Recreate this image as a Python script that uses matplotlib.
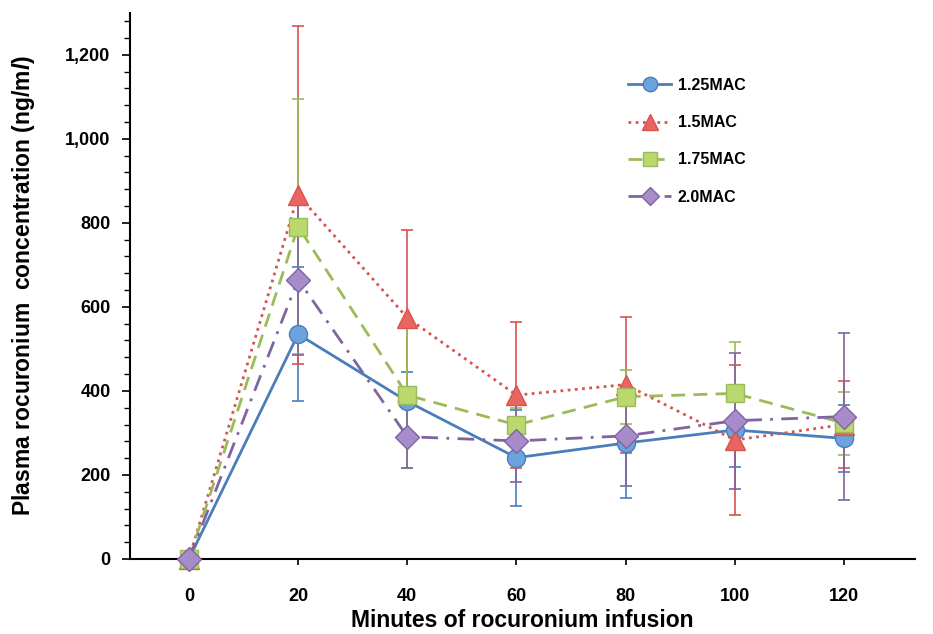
import matplotlib
matplotlib.use("Agg")
import matplotlib.pyplot as plt
from matplotlib.ticker import MultipleLocator, FuncFormatter

plt.rcParams['font.family'] = ['Liberation Sans', 'DejaVu Sans']
plt.rcParams['font.weight'] = 'bold'
plt.rcParams['mathtext.fontset'] = 'custom'
plt.rcParams['mathtext.rm'] = 'Liberation Sans:bold'
plt.rcParams['mathtext.it'] = 'Liberation Sans:italic:bold'

# Minutes of infusion and plasma concentrations (mean, SD) per MAC group
minutes = [0, 20, 40, 60, 80, 100, 120]
labels = ["1.25MAC", "1.5MAC", "1.75MAC", "2.0MAC"]

mac125 = [0, 535, 375, 241, 276, 307, 287]
mac125_sd = [0, 160, 70, 114, 132, 87, 80]
mac15 = [0, 866, 574, 390, 415, 283, 320]
mac15_sd = [0, 403, 209, 173, 162, 179, 103]
mac175 = [0, 791, 390, 319, 386, 394, 323]
mac175_sd = [0, 304, 174, 40, 64, 123, 75]
mac20 = [0, 665, 291, 281, 293, 329, 339]
mac20_sd = [0, 179, 75, 98, 119, 162, 198]

means = [mac125, mac15, mac175, mac20]
sds = [mac125_sd, mac15_sd, mac175_sd, mac20_sd]

# style per series: line colour, marker fill, marker, linestyle, marker size
styles = [
    ("#4a7ebb", "#6aa3de", "o", "-", 13),
    ("#d9534f", "#e8665f", "^", (0, (1, 1.6)), 15),
    ("#9bbb59", "#b9d96e", "s", (0, (5, 3)), 13),
    ("#8064a2", "#a88bc9", "D", (0, (6, 3, 1, 3)), 12),
]

fig = plt.figure(figsize=(9.33, 6.34), dpi=100)
ax = fig.add_axes([0.1393, 0.1183, 0.8414, 0.8617])

# error bars first, so markers sit on top of them
for y, sd, (lc, fc, mk, ls, ms) in zip(means, sds, styles):
    ax.errorbar(minutes, y, yerr=sd, fmt="none", ecolor=lc, elinewidth=1.2,
                capsize=4.5, capthick=1.2, zorder=2)

for y, lab, (lc, fc, mk, ls, ms) in zip(means, labels, styles):
    ax.plot(minutes, y, color=lc, linestyle=ls, linewidth=2,
            marker=mk, markersize=ms, markerfacecolor=fc,
            markeredgecolor=lc, markeredgewidth=1, label=lab,
            zorder=3, clip_on=False)

ax.set_xlim(-10.8, 133)
ax.set_ylim(0, 1300)
ax.set_xticks(minutes)
ax.yaxis.set_major_locator(MultipleLocator(200))
ax.yaxis.set_minor_locator(MultipleLocator(40))
ax.yaxis.set_major_formatter(FuncFormatter(lambda v, p: f"{int(v):,}"))

for s in ["top", "right"]:
    ax.spines[s].set_visible(False)
for s in ["left", "bottom"]:
    ax.spines[s].set_linewidth(1.5)

ax.tick_params(axis="both", which="major", direction="out", length=6,
               width=1.2, labelsize=13, pad=8)
ax.tick_params(axis="y", which="minor", direction="out", length=4, width=1)
ax.tick_params(axis="x", which="major", length=4, pad=17)

ax.set_xlabel("Minutes of rocuronium infusion", fontsize=16.5,
              fontweight="bold", labelpad=3)
ax.set_ylabel(r"Plasma rocuronium  concentration (ng/m$\it{l}$)",
              fontsize=16.5, fontweight="bold", labelpad=20)

leg = ax.legend(loc="upper left", bbox_to_anchor=(0.658, 0.9),
                bbox_transform=fig.transFigure, frameon=False,
                fontsize=11.5, handlelength=2.7, labelspacing=1.4,
                handletextpad=0.4, markerscale=0.8)
for t in leg.get_texts():
    t.set_fontweight("bold")

fig.savefig("out.png", dpi=100)
